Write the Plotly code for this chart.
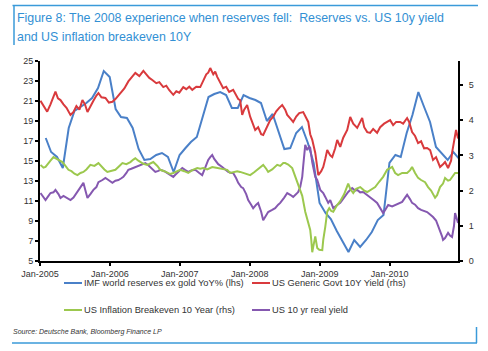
import datetime as dt
import pandas as pd
import plotly.graph_objects as go

# ---------------- data ----------------
# IMF world reserves ex gold YoY% (lhs) - monthly, month-end
reserves_months = pd.period_range("2005-01", periods=72, freq="M").to_timestamp(how="end").normalize()
reserves_yoy = [17.3, 15.9, 15.4, 14.3, 18.3, 20.0, 20.4, 20.8, 21.3, 22.3, 24.0, 23.4,
                20.2, 19.4, 19.3, 18.3, 16.2, 15.1, 15.2, 15.6, 15.8, 15.4, 13.9, 15.6,
                16.3, 16.9, 17.4, 19.3, 21.4, 21.7, 21.9, 21.6, 20.3, 20.3, 21.6, 21.3,
                21.1, 20.8, 19.0, 19.7, 18.0, 16.2, 16.3, 17.8, 18.4, 16.8, 14.8, 10.8,
                9.8, 9.2, 8.0, 6.9, 5.9, 7.1, 6.4, 7.1, 7.9, 9.1, 9.6, 14.8,
                15.6, 15.4, 17.8, 19.6, 21.9, 20.4, 18.9, 16.4, 15.8, 15.1, 15.9, 15.2]

# US Generic Govt 10Y Yield (rhs) - decimal years
ust10_t = [2005.007, 2005.031, 2005.064, 2005.103, 2005.150, 2005.179, 2005.221, 2005.257, 2005.293,
           2005.336, 2005.379, 2005.436, 2005.479, 2005.521, 2005.564, 2005.607, 2005.643, 2005.679,
           2005.721, 2005.764, 2005.807, 2005.836, 2005.879, 2005.936, 2005.986, 2006.036, 2006.079,
           2006.121, 2006.150, 2006.207, 2006.264, 2006.307, 2006.364, 2006.421, 2006.479, 2006.521,
           2006.564, 2006.607, 2006.664, 2006.707, 2006.764, 2006.807, 2006.850, 2006.907, 2006.950,
           2006.993, 2007.050, 2007.093, 2007.136, 2007.179, 2007.236, 2007.293, 2007.336, 2007.379,
           2007.407, 2007.436, 2007.479, 2007.507, 2007.536, 2007.579, 2007.621, 2007.664, 2007.707,
           2007.764, 2007.807, 2007.836, 2007.864, 2007.893, 2007.921, 2007.964, 2008.007, 2008.050,
           2008.079, 2008.121, 2008.164, 2008.193, 2008.236, 2008.293, 2008.336, 2008.379, 2008.421,
           2008.464, 2008.507, 2008.536, 2008.579, 2008.621, 2008.664, 2008.707, 2008.764, 2008.793,
           2008.836, 2008.864, 2008.893, 2008.936, 2008.964, 2008.979, 2009.021, 2009.050, 2009.079,
           2009.107, 2009.150, 2009.179, 2009.221, 2009.250, 2009.293, 2009.336, 2009.393, 2009.436,
           2009.479, 2009.536, 2009.579, 2009.607, 2009.636, 2009.679, 2009.721, 2009.764, 2009.821,
           2009.864, 2009.921, 2009.964, 2010.007, 2010.050, 2010.093, 2010.150, 2010.193, 2010.250,
           2010.279, 2010.321, 2010.364, 2010.407, 2010.450, 2010.493, 2010.536, 2010.579, 2010.621,
           2010.664, 2010.721, 2010.764, 2010.793, 2010.836, 2010.879, 2010.893, 2010.921, 2010.950,
           2010.979]
ust10_yield = [4.55, 4.48, 4.35, 4.24, 4.45, 4.60, 4.81, 4.62, 4.57,
               4.45, 4.35, 4.15, 4.23, 4.40, 4.30, 4.57, 4.45, 4.23,
               4.40, 4.55, 4.70, 4.77, 4.65, 4.63, 4.50, 4.52, 4.60,
               4.70, 4.77, 4.90, 5.10, 5.20, 5.34, 5.25, 5.40, 5.30,
               5.20, 5.14, 5.05, 5.08, 4.94, 4.98, 4.85, 4.72, 4.82,
               4.78, 4.94, 4.88, 4.95, 4.86, 4.95, 4.94, 5.10, 5.30,
               5.35, 5.48, 5.30, 5.38, 5.23, 5.06, 4.91, 4.95, 4.80,
               4.86, 4.70, 4.60, 4.57, 4.15, 4.30, 4.43, 4.10, 3.85,
               3.72, 3.80, 3.60, 3.58, 3.75, 4.00, 4.10, 4.25, 4.35,
               4.43, 4.30, 4.15, 4.05, 3.95, 4.10, 4.20, 4.23, 4.10,
               3.95, 3.60, 3.44, 3.07, 2.64, 2.44, 2.55, 2.67, 2.90,
               3.15, 3.00, 2.95, 3.20, 3.44, 3.24, 3.50, 3.72, 4.09,
               3.90, 3.78, 3.95, 4.06, 3.80, 3.66, 3.64, 3.75, 3.64,
               3.80, 3.90, 3.95, 4.00, 3.86, 3.95, 3.95, 3.90, 4.06,
               3.95, 3.66, 3.55, 3.35, 3.40, 3.20, 3.21, 3.15, 2.87,
               2.95, 2.67, 2.75, 2.81, 2.64, 2.85, 3.07, 3.40, 3.72,
               3.48]

# US Inflation Breakeven 10 Year (rhs)
bei_t = [2005.007, 2005.050, 2005.079, 2005.121, 2005.150, 2005.193, 2005.236, 2005.279, 2005.321,
         2005.364, 2005.407, 2005.450, 2005.493, 2005.536, 2005.579, 2005.621, 2005.664, 2005.721,
         2005.779, 2005.836, 2005.879, 2005.921, 2005.964, 2006.021, 2006.079, 2006.136, 2006.179,
         2006.236, 2006.293, 2006.336, 2006.364, 2006.407, 2006.436, 2006.479, 2006.536, 2006.579,
         2006.621, 2006.679, 2006.721, 2006.779, 2006.821, 2006.864, 2006.907, 2006.964, 2007.007,
         2007.064, 2007.121, 2007.179, 2007.250, 2007.293, 2007.336, 2007.393, 2007.464, 2007.521,
         2007.579, 2007.636, 2007.679, 2007.721, 2007.764, 2007.821, 2007.864, 2007.921, 2007.979,
         2008.007, 2008.064, 2008.107, 2008.150, 2008.193, 2008.236, 2008.264, 2008.321, 2008.393,
         2008.436, 2008.479, 2008.507, 2008.550, 2008.607, 2008.650, 2008.679, 2008.721, 2008.750,
         2008.793, 2008.821, 2008.850, 2008.864, 2008.879, 2008.893, 2008.907, 2008.936, 2008.964,
         2008.993, 2009.036, 2009.050, 2009.079, 2009.107, 2009.136, 2009.164, 2009.193, 2009.236,
         2009.293, 2009.350, 2009.407, 2009.436, 2009.479, 2009.521, 2009.579, 2009.636, 2009.679,
         2009.736, 2009.793, 2009.850, 2009.907, 2009.964, 2010.007, 2010.036, 2010.079, 2010.121,
         2010.179, 2010.250, 2010.293, 2010.321, 2010.364, 2010.407, 2010.450, 2010.507, 2010.550,
         2010.593, 2010.650, 2010.679, 2010.721, 2010.764, 2010.793, 2010.836, 2010.864, 2010.907,
         2010.936, 2010.979]
bei_10y = [2.73, 2.65, 2.67, 2.80, 2.85, 2.95, 2.90, 2.85, 2.81,
           2.70, 2.59, 2.55, 2.48, 2.44, 2.50, 2.53, 2.60, 2.73,
           2.70, 2.78, 2.68, 2.60, 2.53, 2.57, 2.59, 2.70, 2.78,
           2.75, 2.81, 2.88, 2.92, 2.85, 2.81, 2.76, 2.73, 2.78,
           2.81, 2.70, 2.59, 2.55, 2.50, 2.47, 2.50, 2.56, 2.59,
           2.55, 2.50, 2.58, 2.64, 2.62, 2.64, 2.60, 2.67, 2.65,
           2.62, 2.60, 2.59, 2.50, 2.53, 2.55, 2.53, 2.50, 2.46,
           2.44, 2.52, 2.59, 2.66, 2.73, 2.62, 2.53, 2.60, 2.73,
           2.70, 2.78, 2.78, 2.74, 2.64, 2.40, 2.30, 2.05, 1.85,
           1.40, 1.20, 0.95, 0.88, 0.60, 0.25, 0.40, 0.70, 0.37,
           0.32, 0.31, 0.60, 0.97, 1.40, 1.50, 1.42, 1.40, 1.55,
           1.70, 1.90, 2.20, 2.05, 1.93, 2.05, 2.10, 2.00, 1.96,
           2.02, 2.10, 2.25, 2.39, 2.59, 2.64, 2.67, 2.50, 2.44,
           2.50, 2.50, 2.58, 2.67, 2.50, 2.36, 2.30, 2.24, 2.10,
           2.00, 1.80, 1.87, 2.10, 2.20, 2.36, 2.28, 2.30, 2.42,
           2.50, 2.50]

# US 10 yr real yield (rhs)
real_t = [2005.007, 2005.036, 2005.079, 2005.121, 2005.150, 2005.193, 2005.221, 2005.264, 2005.293,
          2005.336, 2005.364, 2005.407, 2005.436, 2005.479, 2005.507, 2005.550, 2005.579, 2005.621,
          2005.650, 2005.679, 2005.721, 2005.764, 2005.807, 2005.836, 2005.893, 2005.936, 2005.979,
          2006.036, 2006.079, 2006.121, 2006.164, 2006.193, 2006.236, 2006.264, 2006.307, 2006.336,
          2006.393, 2006.436, 2006.479, 2006.507, 2006.550, 2006.579, 2006.621, 2006.650, 2006.693,
          2006.721, 2006.779, 2006.821, 2006.864, 2006.907, 2006.936, 2006.964, 2007.007, 2007.036,
          2007.079, 2007.121, 2007.164, 2007.221, 2007.279, 2007.321, 2007.364, 2007.407, 2007.436,
          2007.464, 2007.493, 2007.507, 2007.550, 2007.607, 2007.650, 2007.693, 2007.736, 2007.764,
          2007.807, 2007.836, 2007.879, 2007.907, 2007.950, 2007.979, 2008.021, 2008.050, 2008.093,
          2008.121, 2008.164, 2008.193, 2008.236, 2008.264, 2008.321, 2008.364, 2008.407, 2008.436,
          2008.493, 2008.536, 2008.579, 2008.621, 2008.664, 2008.693, 2008.721, 2008.750, 2008.764,
          2008.779, 2008.793, 2008.821, 2008.850, 2008.864, 2008.893, 2008.936, 2008.964, 2009.007,
          2009.050, 2009.079, 2009.121, 2009.150, 2009.193, 2009.250, 2009.293, 2009.321, 2009.364,
          2009.407, 2009.464, 2009.507, 2009.536, 2009.579, 2009.621, 2009.679, 2009.721, 2009.779,
          2009.821, 2009.864, 2009.907, 2009.936, 2009.979, 2010.036, 2010.079, 2010.136, 2010.179,
          2010.221, 2010.250, 2010.293, 2010.321, 2010.364, 2010.407, 2010.450, 2010.493, 2010.536,
          2010.579, 2010.621, 2010.664, 2010.693, 2010.721, 2010.750, 2010.764, 2010.793, 2010.836,
          2010.864, 2010.893, 2010.921, 2010.936, 2010.964, 2010.979]
real_10y = [1.93, 1.85, 1.73, 1.85, 1.93, 1.95, 2.02, 1.90, 1.79,
            1.85, 1.82, 1.75, 1.73, 1.80, 1.88, 2.00, 2.10, 2.22,
            2.00, 1.79, 1.90, 2.02, 2.10, 2.24, 2.30, 2.36, 2.30,
            2.22, 2.28, 2.30, 2.35, 2.39, 2.50, 2.59, 2.62, 2.64,
            2.70, 2.73, 2.76, 2.78, 2.72, 2.67, 2.60, 2.53, 2.56,
            2.59, 2.55, 2.50, 2.45, 2.39, 2.45, 2.50, 2.60, 2.64,
            2.58, 2.53, 2.57, 2.59, 2.50, 2.44, 2.65, 2.87, 2.95,
            3.01, 2.90, 2.87, 2.75, 2.67, 2.60, 2.53, 2.50, 2.50,
            2.35, 2.22, 2.10, 2.07, 1.90, 1.73, 1.60, 1.50, 1.60,
            1.65, 1.40, 1.16, 1.30, 1.39, 1.45, 1.50, 1.60, 1.65,
            1.80, 1.93, 1.88, 1.82, 1.90, 1.96, 2.10, 2.39, 2.70,
            2.96, 3.30, 3.15, 3.25, 3.21, 2.80, 2.39, 2.30, 2.02,
            1.93, 1.82, 1.65, 1.73, 1.50, 1.59, 1.65, 1.73, 1.85,
            1.96, 2.07, 2.00, 2.02, 1.95, 1.96, 1.88, 1.80, 1.72,
            1.65, 1.50, 1.36, 1.45, 1.59, 1.55, 1.59, 1.62, 1.68,
            1.80, 1.88, 1.75, 1.65, 1.60, 1.50, 1.45, 1.42, 1.39,
            1.32, 1.25, 1.15, 1.00, 0.90, 0.70, 0.60, 0.65, 0.80,
            0.72, 0.68, 1.00, 1.36, 1.20, 1.08]

left_ticks = list(range(5, 26, 2))
right_ticks = [0, 1, 2, 3, 4, 5]
left_range = [5, 25]
right_range = [0, 5.68]
x_range = ["2005-01-01", "2010-12-24"]

series_names = ["IMF world reserves ex gold YoY% (lhs)", "US Generic Govt 10Y Yield (rhs)",
                "US Inflation Breakeven 10 Year (rhs)", "US 10 yr real yield"]
series_colors = ["#4a80c8", "#d93a3d", "#9cc84e", "#8558b0"]

title_lines = ["Figure 8: The 2008 experience when reserves fell:  Reserves vs. US 10y yield",
               "and US inflation breakeven 10Y"]
source_text = "Source: Deutsche Bank, Bloomberg Finance LP"


def to_date(t):
    y = int(t)
    start = dt.datetime(y, 1, 1)
    end = dt.datetime(y + 1, 1, 1)
    return start + (end - start) * (t - y)


FONT = "Liberation Sans, Arial, sans-serif"
W, H = 488, 351
L, R, T, B = 40, 30, 61, 90
PW, PH = W - L - R, H - T - B


def px(x):
    return (x - L) / PW


def py(y):
    return (H - B - y) / PH


fig = go.Figure()
fig.add_trace(go.Scatter(x=[to_date(t) for t in real_t], y=real_10y, yaxis="y2", mode="lines",
                         line=dict(color=series_colors[3], width=2), name=series_names[3]))
fig.add_trace(go.Scatter(x=[to_date(t) for t in bei_t], y=bei_10y, yaxis="y2", mode="lines",
                         line=dict(color=series_colors[2], width=2), name=series_names[2]))
fig.add_trace(go.Scatter(x=[to_date(t) for t in ust10_t], y=ust10_yield, yaxis="y2", mode="lines",
                         line=dict(color=series_colors[1], width=2), name=series_names[1]))
fig.add_trace(go.Scatter(x=reserves_months, y=reserves_yoy, yaxis="y", mode="lines",
                         line=dict(color=series_colors[0], width=2), name=series_names[0]))

tickfont = dict(family=FONT, size=9, color="#333333")
axis_common = dict(showgrid=False, zeroline=False, showline=True, linecolor="black", linewidth=2,
                   tickwidth=2, tickcolor="black", ticklen=3)
fig.update_layout(
    width=W, height=H, margin=dict(l=L, r=R, t=T, b=B),
    paper_bgcolor="white", plot_bgcolor="white", showlegend=False,
    font=dict(family=FONT, size=9, color="#333333"),
    xaxis=dict(type="date", range=x_range, tick0="2005-01-01", dtick="M12", tickformat="%b-%Y",
               ticks="outside", tickfont=tickfont, **axis_common),
    yaxis=dict(range=left_range, tickvals=left_ticks, ticks="outside", tickfont=tickfont,
               **axis_common),
    yaxis2=dict(range=right_range, tickvals=right_ticks, overlaying="y", side="right",
                ticks="outside", tickfont=tickfont, ticklabelstandoff=4, **axis_common),
    # companion axes that draw the inner half of the crossing tick marks
    xaxis2=dict(type="date", range=x_range, tick0="2005-01-01", dtick="M12", overlaying="x",
                anchor="y", ticks="inside", showticklabels=False, **axis_common),
    yaxis3=dict(range=left_range, tickvals=left_ticks, overlaying="y", anchor="x",
                ticks="inside", showticklabels=False, **axis_common),
    yaxis4=dict(range=right_range, tickvals=right_ticks, overlaying="y", side="right", anchor="x",
                ticks="inside", showticklabels=False, **axis_common),
)

frame_color = "#3a9ad9"
shapes = [
    dict(type="line", xref="paper", yref="paper", x0=px(12.5), x1=px(478), y0=py(5.5), y1=py(5.5),
         line=dict(color=frame_color, width=1.5)),
    dict(type="line", xref="paper", yref="paper", x0=px(14), x1=px(14), y0=py(5.5), y1=py(45),
         line=dict(color=frame_color, width=1.5)),
    dict(type="line", xref="paper", yref="paper", x0=px(12), x1=px(477), y0=py(343), y1=py(343),
         line=dict(color=frame_color, width=1.5)),
    dict(type="line", xref="paper", yref="paper", x0=px(476.5), x1=px(476.5), y0=py(327), y1=py(343),
         line=dict(color=frame_color, width=1.5)),
]
annotations = [
    dict(text=title_lines[0], xref="paper", yref="paper", x=px(15), y=py(18), xanchor="left",
         yanchor="middle", showarrow=False, font=dict(family=FONT, size=12.4, color="#3290d4")),
    dict(text=title_lines[1], xref="paper", yref="paper", x=px(15), y=py(37), xanchor="left",
         yanchor="middle", showarrow=False, font=dict(family=FONT, size=12.4, color="#3290d4")),
    dict(text="<i>" + source_text + "</i>", xref="paper", yref="paper", x=px(11), y=py(332),
         xanchor="left", yanchor="middle", showarrow=False,
         font=dict(family=FONT, size=7, color="#333333")),
]

# custom legend (2 x 2)
legend_pos = [(64, 283), (252, 283), (64, 310), (252, 310)]
for (lx, ly), i in zip(legend_pos, range(4)):
    shapes.append(dict(type="line", xref="paper", yref="paper", x0=px(lx), x1=px(lx + 18),
                       y0=py(ly), y1=py(ly), line=dict(color=series_colors[i], width=2)))
    annotations.append(dict(text=series_names[i], xref="paper", yref="paper", x=px(lx + 18),
                            y=py(ly), xanchor="left", yanchor="middle", showarrow=False,
                            font=dict(family=FONT, size=9.3, color="#333333")))

fig.update_layout(shapes=shapes, annotations=annotations)
fig.write_html("out.html")
